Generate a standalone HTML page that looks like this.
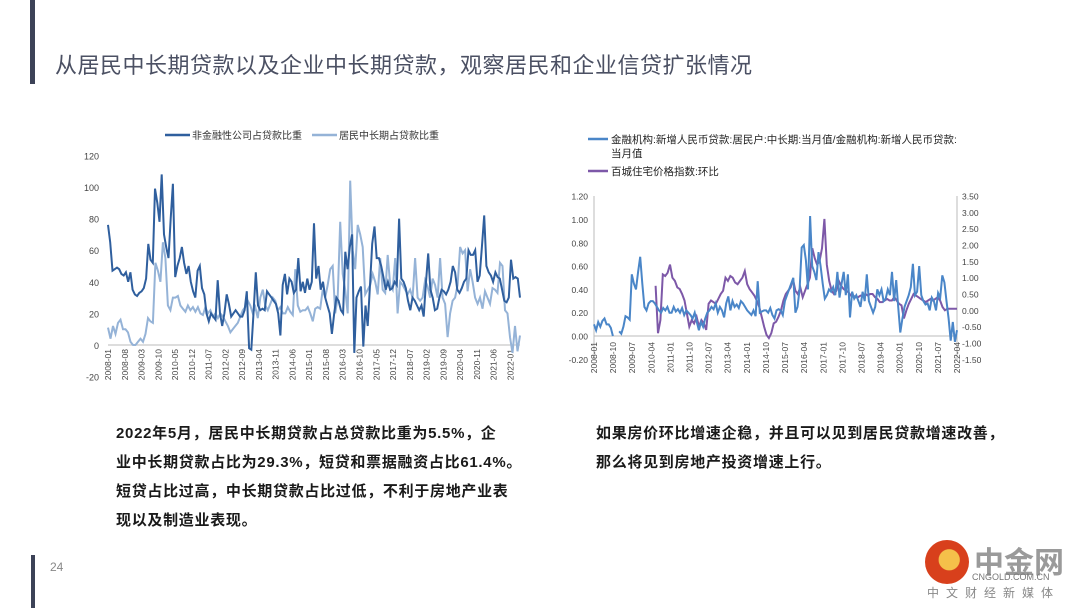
<!DOCTYPE html>
<html><head><meta charset="utf-8">
<style>
body{margin:0;width:1080px;height:608px;background:#fff;position:relative;overflow:hidden;font-family:"Liberation Sans","Noto Sans CJK SC",sans-serif;}
.abs{position:absolute;}
.title{left:55px;top:48px;font-size:22px;color:#4b5063;letter-spacing:0.5px;}
.para{font-size:15px;color:#1a1a1a;font-weight:bold;line-height:29px;letter-spacing:0.7px;white-space:nowrap;}
svg text{font-family:"Liberation Sans","Noto Sans CJK SC",sans-serif;}
</style></head><body>
<div class="abs" style="left:30px;top:0;width:5px;height:84px;background:#3c4257"></div>
<div class="abs title">从居民中长期贷款以及企业中长期贷款，观察居民和企业信贷扩张情况</div>
<svg class="abs" style="left:0;top:0" width="1080" height="608">
<g id="left"></g>
<g id="right"></g>
</svg>
<div class="abs para" style="left:116px;top:419px;">2022年5月，居民中长期贷款占总贷款比重为5.5%，企<br>业中长期贷款占比为29.3%，短贷和票据融资占比61.4%。<br>短贷占比过高，中长期贷款占比过低，不利于房地产业表<br>现以及制造业表现。</div>
<div class="abs para" style="left:596px;top:419px;">如果房价环比增速企稳，并且可以见到居民贷款增速改善，<br>那么将见到房地产投资增速上行。</div>
<div class="abs" style="left:50px;top:560px;font-size:12px;color:#888">24</div>
<div class="abs" style="left:31px;top:555px;width:4px;height:53px;background:#3c4257"></div>
<div class="abs" style="left:922px;top:540px;width:150px;height:68px;">
<div class="abs" style="left:3px;top:0;width:44px;height:44px;border-radius:50%;background:radial-gradient(circle at 55% 45%,#f5c04a 0 30%,#d8401c 32%)"></div>
<div class="abs" style="left:52px;top:-2px;font-size:30px;font-weight:bold;color:#9a9a9a;">中金网</div>
<div class="abs" style="left:50px;top:32px;font-size:9px;color:#777;">CNGOLD.COM.CN</div>
<div class="abs" style="left:5px;top:44px;font-size:12px;color:#888;letter-spacing:7px;">中文财经新媒体</div>
</div>
<script>
// ---------- Left chart data ----------
const leftTicks=["2008-01","2008-08","2009-03","2009-10","2010-05","2010-12","2011-07","2012-02","2012-09","2013-04","2013-11","2014-06","2015-01","2015-08","2016-03","2016-10","2017-05","2017-12","2018-07","2019-02","2019-09","2020-04","2020-11","2021-06","2022-01"];
const leftYTicks=[120,100,80,60,40,20,0,-20];
const corpShare=[76,65,47,48,49,48,45,44,46,40,46,35,32,31,33,34,36,42,64,54,52,99,90,78,108,70,62,55,80,102,43,50,55,62,52,45,50,40,34,30,47,50,36,32,20,15,20,18,16,41,20,12,20,32,26,18,20,22,20,18,18,22,34,-2,-3,20,46,25,22,23,22,34,32,30,28,26,20,6,38,45,32,42,40,33,35,55,34,40,33,42,35,40,77,42,50,35,40,30,25,20,7,20,30,28,22,20,59,48,62,70,-5,30,34,37,-1,25,12,38,64,75,55,55,50,43,35,40,35,36,40,38,80,42,40,36,28,22,30,28,25,22,25,18,40,58,35,30,22,23,30,35,34,32,35,40,50,46,35,33,36,40,42,60,57,57,60,40,44,62,82,50,46,44,40,46,43,42,35,28,27,30,54,42,43,42,30];
const householdShare=[11,4,12,7,14,16,10,10,8,2,0,0,2,4,2,7,17,15,14,52,47,40,65,55,25,22,30,30,31,25,23,21,25,22,24,21,24,20,19,24,20,22,18,20,17,20,18,15,12,8,10,12,14,18,22,24,28,25,20,24,17,30,35,25,22,26,30,28,22,24,20,20,24,21,19,48,25,21,22,22,24,20,15,23,24,23,35,30,38,48,50,20,30,78,45,35,20,104,60,48,76,70,62,32,35,38,45,40,32,55,35,33,57,38,35,55,20,40,38,35,32,35,30,55,30,28,30,41,37,30,42,38,30,55,30,26,5,20,28,30,38,62,58,60,34,48,40,30,26,30,23,34,30,26,36,35,33,52,50,22,20,5,-5,12,-4,6];
// ---------- Right chart data ----------
const rightTicks=["2008-01","2008-10","2009-07","2010-04","2011-01","2011-10","2012-07","2013-04","2014-01","2014-10","2015-07","2016-04","2017-01","2017-10","2018-07","2019-04","2020-01","2020-10","2021-07","2022-04"];
const rightYTicks=["1.20","1.00","0.80","0.60","0.40","0.20","0.00","-0.20"];
const rightY2Ticks=["3.50","3.00","2.50","2.00","1.50","1.00","0.50","0.00","-0.50","-1.00","-1.50"];
const loanRatio=[0.10,0.05,0.12,0.08,0.13,0.15,0.10,0.10,0.07,0.00,null,null,0.04,0.02,0.08,0.17,0.16,0.14,0.53,0.45,0.40,0.55,0.68,0.45,0.25,0.22,0.28,0.30,0.30,0.28,0.25,0.22,0.20,0.24,0.22,0.25,0.20,0.20,0.25,0.21,0.23,0.20,0.24,0.18,0.22,0.20,0.18,0.15,0.20,0.12,0.05,0.12,0.08,0.15,0.20,0.22,0.25,0.23,0.28,0.20,0.25,0.22,0.16,0.28,0.34,0.22,0.30,0.25,0.27,0.24,0.30,0.28,0.25,0.22,0.20,0.18,0.22,0.17,0.47,0.20,0.21,0.22,0.22,0.20,0.24,0.18,0.15,0.22,0.23,0.22,0.18,0.30,0.35,0.40,0.45,0.50,0.20,0.25,0.40,0.76,0.78,0.65,0.40,1.03,0.60,0.55,0.48,0.72,0.60,0.45,0.32,0.35,0.40,0.38,0.42,0.35,0.55,0.33,0.45,0.55,0.35,0.53,0.16,0.38,0.32,0.35,0.30,0.25,0.38,0.30,0.53,0.30,0.25,0.20,0.25,0.40,0.35,0.40,0.30,0.32,0.40,0.35,0.55,0.30,0.48,0.25,0.03,0.15,0.25,0.30,0.35,0.42,0.62,0.35,0.38,0.60,0.35,0.30,0.27,0.28,0.22,0.33,0.30,0.22,0.37,0.33,0.52,0.46,0.30,0.15,-0.04,0.12,-0.05,0.05];
const priceIndexMoM=[0.75,-0.7,-0.3,1.1,1.05,1.15,1.4,1.0,0.9,0.7,0.65,0.5,0.3,-0.1,-0.5,-0.3,-0.4,-0.2,-0.5,-0.3,-0.4,-0.6,0.2,0.3,0.25,0.2,0.35,0.5,0.6,1.0,0.9,1.05,1.0,0.85,0.8,0.9,1.0,1.2,0.8,0.65,0.55,0.45,0.3,0.1,-0.2,-0.5,-0.75,-0.85,-0.7,-0.4,-0.35,-0.2,0.0,0.3,0.5,0.6,0.7,0.95,0.6,0.5,0.7,0.4,0.6,0.8,1.0,1.9,1.6,1.4,1.5,1.9,2.8,1.4,0.9,0.6,0.5,0.6,0.9,0.75,0.65,0.6,0.55,0.45,0.45,0.4,0.4,0.45,0.45,0.5,0.45,0.5,0.5,0.4,0.35,0.25,0.25,0.3,0.35,0.3,0.3,0.4,0.3,0.2,0.15,-0.25,0.0,0.2,0.35,0.5,0.45,0.4,0.35,0.3,0.25,0.3,0.35,0.3,0.35,0.4,0.3,0.1,0.0,0.05,0.05,0.05,0.05,0.05];
const priceStartMonth=29; // 2010-06

const NS='http://www.w3.org/2000/svg';
function mk(tag,parent,attrs,txt){const e=document.createElementNS(NS,tag);for(const k in attrs)e.setAttribute(k,attrs[k]);if(txt!==undefined)e.textContent=txt;parent.appendChild(e);return e;}
function pathFrom(vals,xf,yf){let d='',pen=false;vals.forEach((v,i)=>{if(v===null){pen=false;return;}d+=(pen?'L':'M')+xf(i).toFixed(1)+' '+yf(v).toFixed(1)+' ';pen=true;});return d;}

// ----- Left chart -----
(function(){
const g=document.getElementById('left');
const x0=108,x1=520,months=173;
const xL=i=>x0+(x1-x0)*i/(months-1);
const yL=v=>345-(v/20)*31.6;
leftYTicks.forEach(t=>{const el=mk('text',g,{x:99,y:yL(t)+4,'text-anchor':'end','font-size':9,fill:'#444'},t);

});
const ax=mk('line',g,{x1:x0,x2:x1,y1:yL(0),y2:yL(0),stroke:'#bbb','stroke-width':1});


leftTicks.forEach((t,k)=>{const xx=xL(k*7);const el=mk('text',g,{x:0,y:0,transform:`translate(${xx+3},${349}) rotate(-90)`,'text-anchor':'end','font-size':8.5,fill:'#444'},t);

});
const p2=mk('path',g,{d:pathFrom(householdShare,i=>x0+(x1-x0)*i/(householdShare.length-1),yL),fill:'none',stroke:'#95b3d7','stroke-width':2});


const p1=mk('path',g,{d:pathFrom(corpShare,i=>x0+(x1-x0)*i/(corpShare.length-1),yL),fill:'none',stroke:'#2f5f9e','stroke-width':2});


const l1=mk('line',g,{x1:165,x2:190,y1:135,y2:135,stroke:'#2f5f9e','stroke-width':2.5});


const t1=mk('text',g,{x:192,y:139,'font-size':10,fill:'#333'},'非金融性公司占贷款比重');


const l2=mk('line',g,{x1:312,x2:337,y1:135,y2:135,stroke:'#95b3d7','stroke-width':2.5});


const t2=mk('text',g,{x:339,y:139,'font-size':10,fill:'#333'},'居民中长期占贷款比重');


})();

// ----- Right chart -----
(function(){
const g=document.getElementById('right');
const x0=594,x1=957,months=172;
const xR=i=>x0+(x1-x0)*i/(months-1);
const yR=v=>336-(v/0.2)*23.3;
const yR2=v=>359.3-((v+1.5)/0.5)*16.33;
const ax=mk('line',g,{x1:x0,x2:x0,y1:196,y2:360,stroke:'#bbb','stroke-width':1});


const ax2=mk('line',g,{x1:x1,x2:x1,y1:196,y2:360,stroke:'#bbb','stroke-width':1});


const ax3=mk('line',g,{x1:x0,x2:x1,y1:yR(0),y2:yR(0),stroke:'#bbb','stroke-width':1});


rightYTicks.forEach(t=>{const el=mk('text',g,{x:588,y:yR(parseFloat(t))+3.5,'text-anchor':'end','font-size':8.5,fill:'#444'},t);

});
rightY2Ticks.forEach(t=>{const el=mk('text',g,{x:962,y:yR2(parseFloat(t))+3.5,'font-size':8.5,fill:'#444'},t);

});
rightTicks.forEach((t,k)=>{const xx=xR(k*9);const el=mk('text',g,{x:0,y:0,transform:`translate(${xx+3},${342}) rotate(-90)`,'text-anchor':'end','font-size':8.5,fill:'#444'},t);

});
const span=(months-1-priceStartMonth)/(priceIndexMoM.length-1);
const pp=mk('path',g,{d:pathFrom(priceIndexMoM,i=>xR(priceStartMonth+i*span),yR2),fill:'none',stroke:'#7d58a8','stroke-width':2});


const pb=mk('path',g,{d:pathFrom(loanRatio,i=>x0+(x1-x0)*i/(loanRatio.length-1),yR),fill:'none',stroke:'#4a86c8','stroke-width':2});


const l1=mk('line',g,{x1:588,x2:608,y1:139,y2:139,stroke:'#4a86c8','stroke-width':2.5});


const t1=mk('text',g,{x:611,y:143,'font-size':10.5,fill:'#222'},'金融机构:新增人民币贷款:居民户:中长期:当月值/金融机构:新增人民币贷款:');


const t1b=mk('text',g,{x:611,y:157,'font-size':10.5,fill:'#222'},'当月值');


const l2=mk('line',g,{x1:588,x2:608,y1:171,y2:171,stroke:'#7d58a8','stroke-width':2.5});


const t2=mk('text',g,{x:611,y:175,'font-size':10.5,fill:'#222'},'百城住宅价格指数:环比');


})();
</script>
</body></html>
